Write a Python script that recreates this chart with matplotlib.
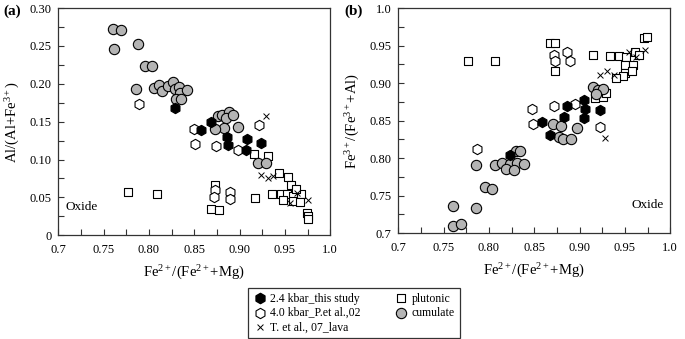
import matplotlib
matplotlib.use('Agg')
import matplotlib.pyplot as plt
from matplotlib.ticker import MultipleLocator, FixedLocator, FixedFormatter

plt.rcParams['font.family'] = ['Liberation Serif', 'DejaVu Serif']
plt.rcParams['mathtext.fontset'] = 'custom'
plt.rcParams['mathtext.rm'] = 'Liberation Serif'
plt.rcParams['mathtext.it'] = 'Liberation Serif:italic'

# ---- panel (a) data ----
a_this_x = [0.829, 0.858, 0.868, 0.886, 0.887, 0.908, 0.907, 0.924]
a_this_y = [0.168, 0.139, 0.150, 0.130, 0.119, 0.127, 0.113, 0.122]
a_p02_x = [0.789, 0.850, 0.851, 0.874, 0.898, 0.922, 0.873, 0.872, 0.889, 0.889]
a_p02_y = [0.173, 0.141, 0.120, 0.118, 0.112, 0.146, 0.060, 0.051, 0.057, 0.048]
a_lava_x = [0.929, 0.924, 0.931, 0.937, 0.963, 0.956, 0.975]
a_lava_y = [0.157, 0.079, 0.075, 0.078, 0.056, 0.042, 0.046]
a_plut_x = [0.777, 0.809, 0.873, 0.869, 0.877, 0.917, 0.936, 0.944, 0.953, 0.957, 0.946, 0.952,
            0.948, 0.959, 0.968, 0.959, 0.967, 0.974, 0.976, 0.976, 0.916, 0.931, 0.962]
a_plut_y = [0.057, 0.055, 0.067, 0.035, 0.033, 0.049, 0.054, 0.082, 0.077, 0.066, 0.054, 0.054,
            0.046, 0.052, 0.055, 0.045, 0.044, 0.030, 0.025, 0.022, 0.107, 0.105, 0.061]
a_cum_x = [0.760, 0.769, 0.761, 0.788, 0.786, 0.796, 0.804, 0.806, 0.811, 0.815, 0.821, 0.827,
           0.829, 0.833, 0.834, 0.830, 0.835, 0.842, 0.876, 0.881, 0.888, 0.885, 0.893, 0.883,
           0.873, 0.898, 0.920, 0.929]
a_cum_y = [0.273, 0.271, 0.246, 0.252, 0.193, 0.224, 0.224, 0.194, 0.198, 0.190, 0.197, 0.203,
           0.193, 0.196, 0.188, 0.180, 0.180, 0.192, 0.158, 0.159, 0.163, 0.155, 0.159, 0.142,
           0.140, 0.143, 0.096, 0.096]

# ---- panel (b) data ----
b_this_x = [0.823, 0.858, 0.867, 0.883, 0.886, 0.905, 0.906, 0.905, 0.922]
b_this_y = [0.804, 0.848, 0.831, 0.855, 0.869, 0.878, 0.865, 0.853, 0.864]
b_p02_x = [0.787, 0.848, 0.849, 0.872, 0.895, 0.922, 0.872, 0.873, 0.886, 0.889]
b_p02_y = [0.812, 0.865, 0.846, 0.870, 0.872, 0.841, 0.938, 0.929, 0.941, 0.930]
b_lava_x = [0.923, 0.930, 0.938, 0.955, 0.972, 0.928, 0.962]
b_lava_y = [0.911, 0.916, 0.911, 0.941, 0.944, 0.827, 0.935]
b_plut_x = [0.777, 0.807, 0.867, 0.873, 0.873, 0.915, 0.934, 0.943, 0.951, 0.961, 0.965, 0.950,
            0.959, 0.950, 0.958, 0.948, 0.940, 0.971, 0.974, 0.917, 0.926, 0.929]
b_plut_y = [0.929, 0.930, 0.954, 0.953, 0.916, 0.938, 0.936, 0.936, 0.935, 0.942, 0.938, 0.924,
            0.924, 0.914, 0.916, 0.910, 0.907, 0.960, 0.962, 0.880, 0.882, 0.887]
b_cum_x = [0.760, 0.769, 0.760, 0.786, 0.796, 0.803, 0.786, 0.807, 0.814, 0.823, 0.831, 0.839,
           0.819, 0.828, 0.830, 0.834, 0.871, 0.879, 0.877, 0.882, 0.890, 0.897, 0.915, 0.920,
           0.926, 0.918]
b_cum_y = [0.710, 0.712, 0.736, 0.733, 0.761, 0.759, 0.791, 0.791, 0.794, 0.792, 0.794, 0.792,
           0.785, 0.784, 0.810, 0.809, 0.845, 0.843, 0.828, 0.825, 0.826, 0.840, 0.895, 0.891,
           0.892, 0.886]

x_ticks = [0.7, 0.75, 0.80, 0.85, 0.90, 0.95, 1.0]
x_labels = ['0.7', '0.75', '0.80', '0.85', '0.90', '0.95', '1.0']
a_yticks = [0, 0.05, 0.10, 0.15, 0.20, 0.25, 0.30]
a_ylabels = ['0', '0.05', '0.10', '0.15', '0.20', '0.25', '0.30']
b_yticks = [0.7, 0.75, 0.80, 0.85, 0.90, 0.95, 1.0]
b_ylabels = ['0.7', '0.75', '0.80', '0.85', '0.90', '0.95', '1.0']

grey = '#b4b4b4'


def draw(ax, plut, p02, cum, this, lava):
    ax.scatter(*plut, marker='s', s=30, facecolor='white', edgecolor='black', linewidth=0.8, zorder=2)
    ax.scatter(*p02, marker='h', s=55, facecolor='white', edgecolor='black', linewidth=0.8, zorder=3)
    ax.scatter(*cum, marker='o', s=55, facecolor=grey, edgecolor='black', linewidth=0.8, zorder=4)
    ax.scatter(*this, marker='h', s=55, facecolor='black', edgecolor='black', linewidth=0.8, zorder=5)
    ax.scatter(*lava, marker='x', s=18, color='black', linewidth=0.7, zorder=6)


def style(ax, yt, yl, ylim):
    ax.set_xlim(0.7, 1.0)
    ax.set_ylim(*ylim)
    ax.xaxis.set_major_locator(FixedLocator(x_ticks))
    ax.xaxis.set_major_formatter(FixedFormatter(x_labels))
    ax.yaxis.set_major_locator(FixedLocator(yt))
    ax.yaxis.set_major_formatter(FixedFormatter(yl))
    ax.xaxis.set_minor_locator(MultipleLocator(0.025))
    ax.yaxis.set_minor_locator(MultipleLocator(0.025))
    ax.tick_params(which='both', direction='in', length=4, width=0.8, labelsize=9,
                   top=False, right=False, colors='#333333', labelcolor='black')
    ax.tick_params(axis='x', which='major', pad=6)
    ax.tick_params(axis='y', which='major', pad=5)
    for sp in ax.spines.values():
        sp.set_linewidth(0.9)
        sp.set_color('#333333')
    ax.set_xlabel('Fe$^{2+}$/(Fe$^{2+}$+Mg)', fontsize=10.5, labelpad=6)


fig = plt.figure(figsize=(6.85, 3.39), dpi=100)
ax1 = fig.add_axes([0.085, 0.306, 0.397, 0.670])
ax2 = fig.add_axes([0.5815, 0.312, 0.397, 0.664])

draw(ax1, (a_plut_x, a_plut_y), (a_p02_x, a_p02_y), (a_cum_x, a_cum_y),
     (a_this_x, a_this_y), (a_lava_x, a_lava_y))
style(ax1, a_yticks, a_ylabels, (0, 0.30))
ax1.set_ylabel('Al/(Al+Fe$^{3+}$)', fontsize=10.5, labelpad=5)
ax1.text(0.708, 0.037, 'Oxide', fontsize=9.5, va='center', ha='left')

draw(ax2, (b_plut_x, b_plut_y), (b_p02_x, b_p02_y), (b_cum_x, b_cum_y),
     (b_this_x, b_this_y), (b_lava_x, b_lava_y))
style(ax2, b_yticks, b_ylabels, (0.7, 1.0))
ax2.set_ylabel('Fe$^{3+}$/(Fe$^{3+}$+Al)', fontsize=10.5, labelpad=5)
ax2.text(0.993, 0.737, 'Oxide', fontsize=9.5, va='center', ha='right')

fig.text(0.005, 0.955, '(a)', fontsize=11, fontweight='bold')
fig.text(0.503, 0.955, '(b)', fontsize=11, fontweight='bold')

# legend
h1 = ax1.scatter([], [], marker='h', s=55, facecolor='black', edgecolor='black')
h2 = ax1.scatter([], [], marker='h', s=55, facecolor='white', edgecolor='black', linewidth=0.8)
h3 = ax1.scatter([], [], marker='x', s=18, color='black', linewidth=0.7)
h4 = ax1.scatter([], [], marker='s', s=30, facecolor='white', edgecolor='black', linewidth=0.8)
h5 = ax1.scatter([], [], marker='o', s=55, facecolor=grey, edgecolor='black', linewidth=0.8)
leg = fig.legend([h1, h2, h3, h4, h5],
                 ['2.4 kbar_this study', '4.0 kbar_P.et al.,02', 'T. et al., 07_lava', 'plutonic', 'cumulate'],
                 ncol=2, loc='lower left', bbox_to_anchor=(0.362, 0.003), borderaxespad=0,
                 fontsize=8.5, frameon=True, fancybox=False, edgecolor='black', borderpad=0.4,
                 labelspacing=0.2, handletextpad=0.3, columnspacing=2.8, handlelength=1.2)
leg.get_frame().set_linewidth(0.9)

fig.savefig('out.png', dpi=100)
